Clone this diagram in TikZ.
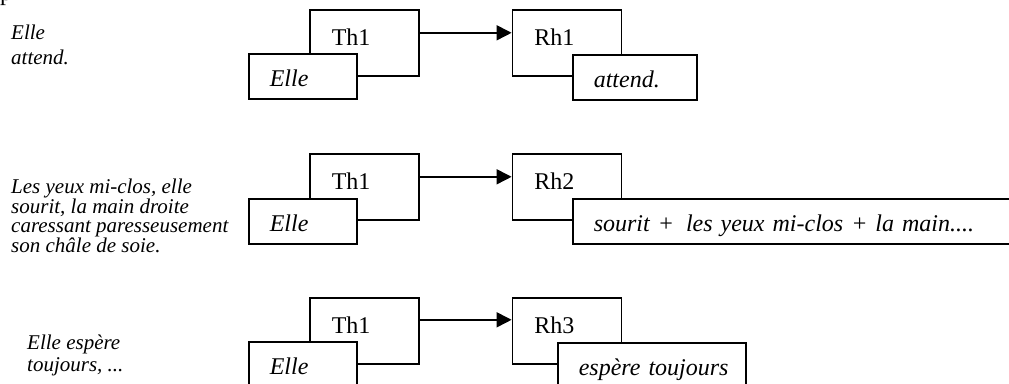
\documentclass[tikz,border=0pt]{standalone}
\usepackage{fontspec}
\setmainfont{Liberation Serif}
\usetikzlibrary{positioning, arrows.meta}

\begin{document}
\begin{tikzpicture}[x=1pt, y=-1pt, node distance=92pt,
    thbox/.style={draw, line width=1.6pt, anchor=north west, align=left,
        text width=65pt, inner xsep=22pt, inner ysep=17pt,
        text height=19pt, text depth=13pt, font=\fontsize{24}{28}\selectfont},
    wordbox/.style={draw, fill=white, line width=1.6pt, anchor=north west, align=left,
        inner xsep=21pt, inner ysep=6pt, text height=27pt, text depth=6pt,
        font=\fontsize{24}{28}\selectfont\itshape},
    sentence/.style={anchor=north west, inner sep=0pt, align=left},
    link/.style={-{Triangle[length=15pt, width=15pt]}, line width=1.6pt}]
    \useasboundingbox (0,0) rectangle (1009,383);

    \node[anchor=base west, inner sep=0pt, font=\fontsize{24}{28}\selectfont] (pfrag) at (0,0) {p};

    % sentences
    \node[sentence, font=\fontsize{21}{25}\selectfont\itshape]   (s1) at (11,25)  {Elle\\attend.};
    \node[sentence, font=\fontsize{21}{19.5}\selectfont\itshape] (s2) at (11,179) {Les yeux mi-clos, elle\\sourit, la main droite\\caressant paresseusement\\son châle de soie.};
    \node[sentence, font=\fontsize{21}{22}\selectfont\itshape]   (s3) at (27,335) {Elle espère\\toujours, ...};

    % themes and rhemes
    \node[thbox]                      (Th1)  at (309,9)   {Th1};
    \node[thbox, right=92pt of Th1]   (Rh1)               {Rh1};
    \node[thbox]                      (Th2)  at (309,153) {Th1};
    \node[thbox, right=92pt of Th2]   (Rh2)               {Rh2};
    \node[thbox]                      (Th3)  at (309,297) {Th1};
    \node[thbox, right=92pt of Th3]   (Rh3)               {Rh3};

    \draw[link] ([yshift=10pt]Th1.east) -- ([yshift=10pt]Rh1.west);
    \draw[link] ([yshift=10pt]Th2.east) -- ([yshift=10pt]Rh2.west);
    \draw[link] ([yshift=11pt]Th3.east) -- ([yshift=11pt]Rh3.west);

    % words
    \node[wordbox, text width=66pt]  (Elle1)   at (248,53)  {Elle};
    \node[wordbox, text width=82pt]  (attend)  at (572,54)  {attend.};
    \node[wordbox, text width=66pt]  (Elle2)   at (248,198) {Elle};
    \node[wordbox, text width=420pt] (sourit)  at (572,198) {sourit +\hspace{4pt} les yeux mi-clos + la main....};
    \node[wordbox, text width=66pt]  (Elle3)   at (248,341) {Elle};
    \node[wordbox, text width=146pt] (espere)  at (557,342) {\mbox{espère toujours}};
\end{tikzpicture}
\end{document}
